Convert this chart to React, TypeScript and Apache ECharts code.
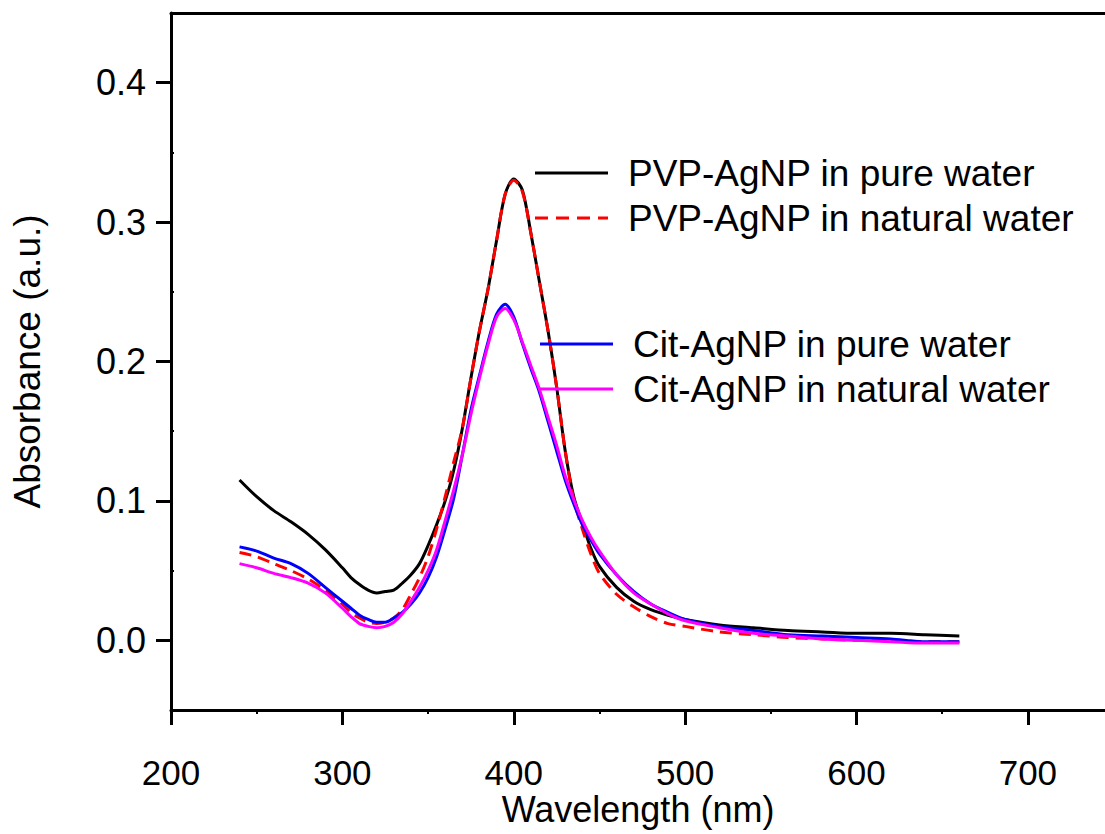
import React, { useEffect, useRef } from "react";
import * as echarts from "echarts";

const wavelengths = [
  240, 250, 260, 270, 280, 290, 300, 305, 310, 315, 320, 325, 330, 335, 340, 345, 350, 355, 360, 365,
  370, 375, 380, 385, 390, 395, 400, 405, 410, 415, 420, 425, 430, 435, 440, 445, 450, 460, 470, 480,
  490, 500, 520, 540, 560, 580, 600, 620, 640, 660,
];

const pvpPure = [
  0.115, 0.103, 0.093, 0.085, 0.076, 0.065, 0.052, 0.045, 0.04, 0.036, 0.034, 0.035, 0.036, 0.041, 0.047, 0.055, 0.068, 0.083, 0.1, 0.122,
  0.152, 0.188, 0.222, 0.252, 0.287, 0.32, 0.331, 0.323, 0.292, 0.257, 0.222, 0.182, 0.136, 0.103, 0.084, 0.066, 0.053, 0.038, 0.028, 0.022,
  0.018, 0.015, 0.011, 0.009, 0.007, 0.006, 0.005, 0.005, 0.004, 0.003,
];

const pvpNatural = [
  0.063, 0.06, 0.055, 0.05, 0.044, 0.036, 0.026, 0.02, 0.016, 0.013, 0.012, 0.013, 0.016, 0.022, 0.033, 0.045, 0.06, 0.08, 0.103, 0.128,
  0.152, 0.188, 0.222, 0.252, 0.287, 0.32, 0.33, 0.322, 0.292, 0.257, 0.222, 0.182, 0.136, 0.101, 0.08, 0.062, 0.048, 0.033, 0.024, 0.017,
  0.012, 0.01, 0.006, 0.004, 0.002, 0.001, 0.0, 0.0, -0.001, -0.001,
];

const citPure = [
  0.067, 0.064, 0.059, 0.055, 0.048, 0.038, 0.028, 0.023, 0.018, 0.015, 0.013, 0.013, 0.016, 0.02, 0.026, 0.034, 0.045, 0.06, 0.08, 0.102,
  0.133, 0.165, 0.19, 0.214, 0.234, 0.241, 0.232, 0.213, 0.195, 0.178, 0.157, 0.136, 0.115, 0.098, 0.083, 0.072, 0.062, 0.047, 0.035, 0.026,
  0.02, 0.015, 0.01, 0.007, 0.004, 0.003, 0.002, 0.001, -0.001, -0.001,
];

const citNatural = [
  0.055, 0.052, 0.048, 0.045, 0.041, 0.034, 0.023, 0.017, 0.012, 0.01, 0.009, 0.01, 0.013, 0.019, 0.028, 0.038, 0.05, 0.065, 0.086, 0.108,
  0.133, 0.162, 0.188, 0.212, 0.232, 0.238, 0.23, 0.214, 0.197, 0.18, 0.16, 0.14, 0.118, 0.101, 0.086, 0.074, 0.064, 0.047, 0.034, 0.026,
  0.019, 0.014, 0.009, 0.005, 0.003, 0.001, 0.0, -0.001, -0.002, -0.002,
];

const seriesNames = [
  "PVP-AgNP in pure water",
  "PVP-AgNP in natural water",
  "Cit-AgNP in pure water",
  "Cit-AgNP in natural water",
];
const seriesColors = ["#000000", "#ff0000", "#0000ff", "#ff00ff"];
const xMajorTicks = [200, 300, 400, 500, 600, 700];
const xMinorTicks = [250, 350, 450, 550, 650];
const yMajorTicks = [0, 0.1, 0.2, 0.3, 0.4];
const yMinorTicks = [0.05, 0.15, 0.25, 0.35];

const FONT = "Liberation Sans, Arial, sans-serif";
const SOLID_ICON = "path://M0,0H73V3H0Z";
const DASH_ICON = "path://M0,0H13V3H0Z M21,0H34V3H21Z M42,0H55V3H42Z M63,0H73V3H63Z";

export default function App() {
  const ref = useRef<HTMLDivElement>(null);
  useEffect(() => {
    if (!ref.current) return;
    const chart = echarts.init(ref.current, null, { renderer: "svg" });
    const allData = [pvpPure, pvpNatural, citPure, citNatural];
    const axisLine = { show: true, onZero: false, lineStyle: { color: "#000", width: 3 } };
    const legendText = { fontFamily: FONT, fontSize: 37, color: "#000", lineHeight: 40, padding: [0, 0, 0, 15] };
    const option: any = {
      animation: false,
      backgroundColor: "#fff",
      grid: { left: 171, right: 0, top: 13, bottom: 124, containLabel: false, outerBoundsMode: "none" },
      xAxis: [
        {
          type: "value",
          min: 200,
          max: 745,
          position: "bottom",
          name: "Wavelength (nm)",
          nameLocation: "middle",
          nameGap: 84,
          nameMoveOverlap: false,
          nameTextStyle: { fontFamily: FONT, fontSize: 36, lineHeight: 30, color: "#000" },
          axisLine,
          axisTick: { show: true, customValues: xMajorTicks, length: 15, inside: false, lineStyle: { color: "#000", width: 3 } },
          axisLabel: { customValues: xMajorTicks, margin: 47, fontFamily: FONT, fontSize: 35, lineHeight: 30, color: "#000" },
          splitLine: { show: false },
        },
        {
          type: "value",
          min: 200,
          max: 745,
          position: "bottom",
          axisLine: { show: false, onZero: false },
          axisTick: { show: true, customValues: xMinorTicks, length: 4, inside: false, lineStyle: { color: "#000", width: 2 } },
          axisLabel: { show: false },
          splitLine: { show: false },
        },
        {
          type: "value",
          min: 200,
          max: 745,
          position: "top",
          axisLine,
          axisTick: { show: false },
          axisLabel: { show: false },
          splitLine: { show: false },
        },
      ],
      yAxis: [
        {
          type: "value",
          min: -0.05,
          max: 0.45,
          position: "left",
          name: "Absorbance (a.u.)",
          nameLocation: "middle",
          nameGap: 125,
          nameRotate: 90,
          nameMoveOverlap: false,
          nameTextStyle: { fontFamily: FONT, fontSize: 37, color: "#000" },
          axisLine,
          axisTick: { show: true, customValues: yMajorTicks, length: 15, inside: false, lineStyle: { color: "#000", width: 3 } },
          axisLabel: {
            customValues: yMajorTicks,
            margin: 25,
            fontFamily: FONT,
            fontSize: 36,
            color: "#000",
            formatter: (v: number) => v.toFixed(1),
          },
          splitLine: { show: false },
        },
        {
          type: "value",
          min: -0.05,
          max: 0.45,
          position: "left",
          axisLine: { show: false, onZero: false },
          axisTick: { show: true, customValues: yMinorTicks, length: 3, inside: true, lineStyle: { color: "#000", width: 2 } },
          axisLabel: { show: false },
          splitLine: { show: false },
        },
      ],
      legend: [
        {
          data: [
            { name: seriesNames[0], icon: SOLID_ICON },
            { name: seriesNames[1], icon: DASH_ICON },
          ],
          orient: "vertical",
          left: 535,
          top: 153,
          padding: 0,
          itemWidth: 73,
          itemHeight: 3,
          itemGap: 5,
          textStyle: legendText,
        },
        {
          data: [
            { name: seriesNames[2], icon: SOLID_ICON },
            { name: seriesNames[3], icon: SOLID_ICON },
          ],
          orient: "vertical",
          left: 540,
          top: 324,
          padding: 0,
          itemWidth: 73,
          itemHeight: 3,
          itemGap: 5,
          textStyle: legendText,
        },
      ],
      series: seriesNames.map((name, i) => ({
        name,
        type: "line",
        xAxisIndex: 0,
        yAxisIndex: 0,
        data: wavelengths.map((w, j) => [w, allData[i][j]]),
        smooth: 0.3,
        symbol: "none",
        showSymbol: false,
        color: seriesColors[i],
        itemStyle: { color: seriesColors[i] },
        lineStyle: { color: seriesColors[i], width: 3, type: i === 1 ? [12, 7] : "solid" },
        z: 2 + i,
      })),
    };
    chart.setOption(option);
    return () => chart.dispose();
  }, []);
  return (
    <div
      ref={ref}
      style={{ position: "fixed", left: 0, top: 0, width: 1105, height: 834, background: "#fff" }}
    />
  );
}
